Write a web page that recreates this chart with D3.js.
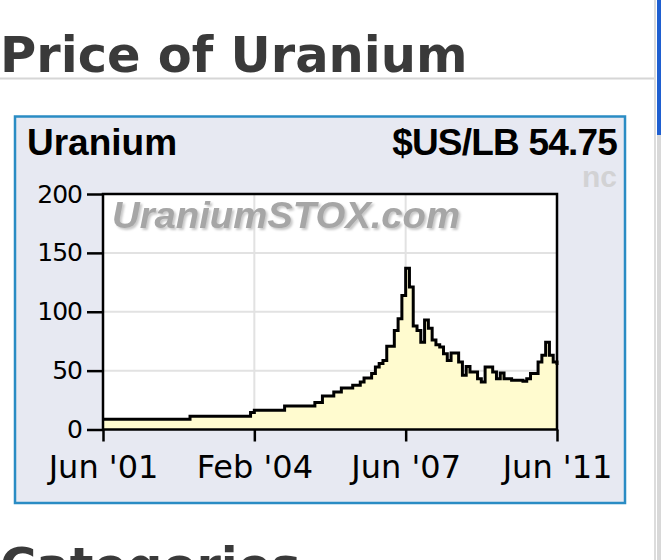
<!DOCTYPE html>
<html>
<head>
<meta charset="utf-8">
<script src="https://cdn.jsdelivr.net/npm/d3@7/dist/d3.min.js"></script>
<style>
  html, body { margin: 0; padding: 0; background: #ffffff; }
  svg { display: block; }
</style>
</head>
<body>
<svg id="chart" width="661" height="560"></svg>
<script>
// ---- data ----
const pageTitle = "Price of Uranium";
const nextHeading = "Categories";
const seriesName = "Uranium";
const unitLabel = "$US/LB 54.75";
const changeLabel = "nc";
const watermark = "UraniumSTOX.com";

const prices = [
  8.8, 8.8, 8.8, 8.8, 8.8, 8.8, 8.8, 8.8, 8.8, 8.8,
  8.8, 8.8, 8.8, 8.8, 8.8, 8.8, 8.8, 8.8, 8.8, 8.8,
  8.8, 8.8, 8.8, 11.3, 11.3, 11.3, 11.3, 11.3, 11.3, 11.3,
  11.3, 11.3, 11.3, 11.3, 11.3, 11.3, 11.3, 11.3, 11.3, 14.4,
  16.4, 16.4, 16.4, 16.4, 16.4, 16.4, 16.4, 16.4, 20, 20,
  20, 20, 20, 20, 20, 20, 22.9, 22.9, 28.5, 28.5,
  28.5, 31.9, 31.9, 35.3, 35.3, 35.3, 37.6, 37.6, 40.3, 43.7,
  43.7, 47.5, 53, 56, 58.7, 70.6, 70.6, 84, 94, 113.8,
  137, 121, 88, 84, 74, 93, 86, 76, 72, 70,
  64.4, 58.7, 65, 65, 57.3, 46, 53.6, 48.8, 48.8, 43.2,
  40.3, 53, 53, 48.8, 43.2, 48, 43.2, 43.2, 41.8, 41.8,
  41.8, 41, 43.2, 47.5, 47.5, 57.3, 63, 74, 63, 57.3,
  54.75
];
const xTickIndex = [0, 40, 80, 120];
const xTickLabels = ["Jun '01", "Feb '04", "Jun '07", "Jun '11"];
const yTicks = [0, 50, 100, 150, 200];

// ---- layout ----
const svg = d3.select("#chart");
const plot = { left: 103, right: 557, top: 194, bottom: 429.5 };

const defs = svg.append("defs");
const f = defs.append("filter").attr("id", "wmShadow")
  .attr("x", "-5%").attr("y", "-20%").attr("width", "110%").attr("height", "140%");
f.append("feDropShadow").attr("dx", 2).attr("dy", 2).attr("stdDeviation", 0.8)
  .attr("flood-color", "#c8c8c8").attr("flood-opacity", 1);

// page header
svg.append("text")
  .attr("x", 0).attr("y", 72)
  .attr("font-family", "DejaVu Sans, Verdana, sans-serif")
  .attr("font-weight", "bold").attr("font-size", 49.5)
  .attr("fill", "#3a3a3a")
  .text(pageTitle);
svg.append("line")
  .attr("x1", 0).attr("x2", 654).attr("y1", 78.5).attr("y2", 78.5)
  .attr("stroke", "#d6d6d6").attr("stroke-width", 2);

// scrollbar at right edge
svg.append("rect").attr("x", 654).attr("y", 0).attr("width", 2).attr("height", 560).attr("fill", "#dcdcdc");
svg.append("rect").attr("x", 657).attr("y", 135).attr("width", 4).attr("height", 425).attr("fill", "#d8d8d8");
svg.append("rect").attr("x", 657).attr("y", 0).attr("width", 4).attr("height", 135).attr("fill", "#1f5fd0");

// next heading (cut off by the page bottom, as in the reference)
svg.append("text")
  .attr("x", 0).attr("y", 583)
  .attr("font-family", "DejaVu Sans, Verdana, sans-serif")
  .attr("font-weight", "bold").attr("font-size", 49.5)
  .attr("fill", "#3a3a3a")
  .text(nextHeading);

// widget box
svg.append("rect")
  .attr("x", 15).attr("y", 116.5).attr("width", 610).attr("height", 386.5)
  .attr("fill", "#e7e9f2").attr("stroke", "#2a8cc4").attr("stroke-width", 2.5);

svg.append("text")
  .attr("x", 27).attr("y", 155)
  .attr("font-family", "Liberation Sans, Arial, sans-serif")
  .attr("font-weight", "bold").attr("font-size", 37)
  .attr("fill", "#000")
  .text(seriesName);
svg.append("text")
  .attr("x", 617).attr("y", 155)
  .attr("text-anchor", "end")
  .attr("font-family", "Liberation Sans, Arial, sans-serif")
  .attr("font-weight", "bold").attr("font-size", 37)
  .attr("letter-spacing", -0.8)
  .attr("fill", "#000")
  .text(unitLabel);
svg.append("text")
  .attr("x", 617).attr("y", 187)
  .attr("text-anchor", "end")
  .attr("font-family", "Liberation Sans, Arial, sans-serif")
  .attr("font-weight", "bold").attr("font-size", 30)
  .attr("fill", "#d2d2d4")
  .text(changeLabel);

// scales
const x = d3.scaleLinear().domain([0, prices.length - 1]).range([plot.left, plot.right]);
const y = d3.scaleLinear().domain([0, 200]).range([plot.bottom, plot.top]);

// plot background
svg.append("rect")
  .attr("x", plot.left).attr("y", plot.top)
  .attr("width", plot.right - plot.left).attr("height", plot.bottom - plot.top)
  .attr("fill", "#ffffff");

// gridlines
svg.append("g").selectAll("line")
  .data(yTicks.filter(d => d > 0 && d < 200))
  .join("line")
  .attr("x1", plot.left).attr("x2", plot.right)
  .attr("y1", d => y(d)).attr("y2", d => y(d))
  .attr("stroke", "#e2e2e2").attr("stroke-width", 2);
svg.append("g").selectAll("line")
  .data(xTickIndex.slice(1, -1))
  .join("line")
  .attr("x1", d => x(d)).attr("x2", d => x(d))
  .attr("y1", plot.top).attr("y2", plot.bottom)
  .attr("stroke", "#e2e2e2").attr("stroke-width", 2);

// watermark
svg.append("text")
  .attr("x", 112).attr("y", 228)
  .attr("font-family", "Liberation Sans, Arial, sans-serif")
  .attr("font-weight", "bold").attr("font-style", "italic")
  .attr("font-size", 37)
  .attr("textLength", 348).attr("lengthAdjust", "spacingAndGlyphs")
  .attr("fill", "#a6a6a6")
  .attr("filter", "url(#wmShadow)")
  .text(watermark);

// area + line
const area = d3.area()
  .x((d, i) => x(i)).y0(y(0)).y1(d => y(d))
  .curve(d3.curveStepAfter);
const line = d3.line()
  .x((d, i) => x(i)).y(d => y(d))
  .curve(d3.curveStepAfter);

svg.append("path").datum(prices)
  .attr("d", area)
  .attr("fill", "#fffbcf");
svg.append("path").datum(prices)
  .attr("d", line)
  .attr("fill", "none").attr("stroke", "#000").attr("stroke-width", 3)
  .attr("stroke-linejoin", "miter");

// frame
svg.append("rect")
  .attr("x", plot.left).attr("y", plot.top)
  .attr("width", plot.right - plot.left).attr("height", plot.bottom - plot.top)
  .attr("fill", "none").attr("stroke", "#000").attr("stroke-width", 2.5);

// axes
const yAxis = d3.axisLeft(y).tickValues(yTicks).tickSize(16).tickPadding(5).tickSizeOuter(0);
const gy = svg.append("g").attr("transform", `translate(${plot.left},0)`).call(yAxis);
gy.select(".domain").remove();
gy.selectAll(".tick line").attr("stroke", "#000").attr("stroke-width", 2.5);
gy.selectAll(".tick text")
  .attr("font-family", "DejaVu Sans, Verdana, sans-serif")
  .attr("font-size", 25).attr("fill", "#000")
  .attr("letter-spacing", -1);

const xAxis = d3.axisBottom(x).tickValues(xTickIndex)
  .tickFormat((d, i) => xTickLabels[i])
  .tickSize(12).tickPadding(14).tickSizeOuter(0);
const gx = svg.append("g").attr("transform", `translate(0,${plot.bottom})`).call(xAxis);
gx.select(".domain").remove();
gx.selectAll(".tick line").attr("stroke", "#000").attr("stroke-width", 2.5);
gx.selectAll(".tick text")
  .attr("font-family", "DejaVu Sans, Verdana, sans-serif")
  .attr("font-size", 32).attr("fill", "#000");
</script>
</body>
</html>
